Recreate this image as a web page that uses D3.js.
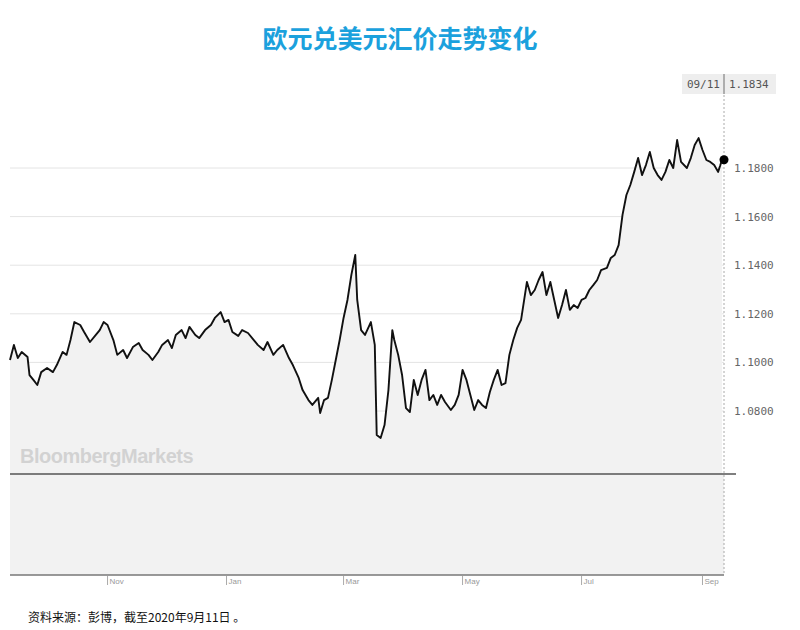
<!DOCTYPE html>
<html><head><meta charset="utf-8">
<script src="https://cdn.jsdelivr.net/npm/d3@7"></script>
<style>body{margin:0;background:#fff}</style></head>
<body><svg id="c" width="800" height="630"></svg>
<script>
const title = "欧元兑美元汇价走势变化";
const source = "资料来源：彭博，截至2020年9月11日 。";
const startDate = "2019-09-12", endDate = "2020-09-11";
const dayOffsets = [0,2,4,6,9,10,12,14,16,19,22,24,27,29,31,33,36,38,41,44,46,48,50,53,55,58,60,63,66,68,71,73,76,78,81,83,85,88,90,92,95,97,100,103,105,108,110,112,114,117,119,122,125,127,130,132,135,137,140,143,145,148,150,153,155,158,159,161,163,165,167,169,171,173,175,177,178,180,182,185,187,188,190,192,194,196,197,199,201,203,205,207,209,211,213,215,217,219,221,223,226,228,230,232,234,236,238,240,242,244,246,248,250,252,254,256,258,260,262,265,267,269,271,273,275,277,279,281,283,285,287,289,291,293,295,297,299,301,303,306,308,310,312,314,316,318,320,322,324,326,328,330,332,334,336,338,340,342,344,347,349,351,353,355,357,359,361,363,364,365];
const values = [1.1010,1.1072,1.1018,1.1043,1.1022,1.0948,1.0928,1.0907,1.0960,1.0977,1.0960,1.0989,1.1043,1.1031,1.1092,1.1166,1.1154,1.1125,1.1084,1.1113,1.1133,1.1166,1.1154,1.1092,1.1031,1.1051,1.1018,1.1063,1.1080,1.1051,1.1031,1.1010,1.1043,1.1072,1.1092,1.1059,1.1113,1.1133,1.1100,1.1146,1.1113,1.1100,1.1133,1.1154,1.1183,1.1207,1.1166,1.1175,1.1125,1.1109,1.1133,1.1121,1.1092,1.1072,1.1051,1.1084,1.1031,1.1051,1.1072,1.1018,1.0989,1.0936,1.0886,1.0845,1.0825,1.0854,1.0792,1.0845,1.0854,1.0928,1.1010,1.1092,1.1183,1.1257,1.1360,1.1442,1.1257,1.1133,1.1113,1.1166,1.1072,1.0701,1.0689,1.0742,1.0886,1.1133,1.1092,1.1031,1.0948,1.0812,1.0796,1.0928,1.0866,1.0928,1.0969,1.0845,1.0866,1.0825,1.0866,1.0837,1.0804,1.0825,1.0866,1.0969,1.0928,1.0866,1.0804,1.0845,1.0825,1.0812,1.0878,1.0928,1.0969,1.0907,1.0915,1.1031,1.1092,1.1142,1.1175,1.1331,1.1277,1.1298,1.1339,1.1372,1.1277,1.1331,1.1257,1.1183,1.1236,1.1298,1.1216,1.1236,1.1224,1.1257,1.1265,1.1298,1.1318,1.1339,1.1380,1.1389,1.1430,1.1442,1.1483,1.1607,1.1689,1.1730,1.1784,1.1841,1.1771,1.1812,1.1866,1.1800,1.1771,1.1751,1.1784,1.1833,1.1800,1.1915,1.1825,1.1800,1.1841,1.1895,1.1923,1.1874,1.1833,1.1825,1.1812,1.1784,1.1808,1.1834];
const yTicks = [1.08,1.10,1.12,1.14,1.16,1.18];
const monthTicks = ["2019-11-01","2020-01-01","2020-03-01","2020-05-01","2020-07-01","2020-09-01"];
const monthLabels = ["Nov","Jan","Mar","May","Jul","Sep"];
const lastLabel = ["09/11","1.1834"];

const p = d3.timeParse("%Y-%m-%d");
const t0 = p(startDate), t1 = p(endDate);
const n = Math.min(values.length, dayOffsets.length);
const data = values.slice(0,n).map((v,i)=>({d:d3.timeDay.offset(t0, dayOffsets[i]), v}));
const svg = d3.select("#c");
const x = d3.scaleTime().domain([t0,t1]).range([10,722]);
const y = d3.scaleLinear().domain([1.08,1.18]).range([411,168]);
const baseY = 474, bottomY = 575;

svg.append("text").attr("x",400).attr("y",48).attr("text-anchor","middle")
  .attr("font-family","Noto Sans CJK SC").attr("font-weight","bold").attr("font-size",25)
  .attr("fill","#1ba1dd").text(title);

svg.selectAll(".g").data(yTicks).join("line").attr("x1",10).attr("x2",724)
  .attr("y1",d=>y(d)).attr("y2",d=>y(d)).attr("stroke","#e4e4e4");
svg.append("rect").attr("x",10).attr("y",baseY).attr("width",714).attr("height",bottomY-baseY).attr("fill","#f2f2f2");
svg.append("path").datum(data).attr("fill","#f2f2f2")
  .attr("d",d3.area().x(d=>x(d.d)).y0(baseY).y1(d=>y(d.v)));
svg.append("text").attr("x",20).attr("y",463).attr("font-family","Liberation Sans")
  .attr("font-weight","bold").attr("font-size",20).attr("fill","#d2d2d2").attr("letter-spacing",-0.5).text("BloombergMarkets");
svg.append("line").attr("x1",10).attr("x2",736).attr("y1",baseY).attr("y2",baseY).attr("stroke","#555").attr("stroke-width",1.5);
svg.append("line").attr("x1",724).attr("x2",724).attr("y1",95).attr("y2",bottomY).attr("stroke","#aaa").attr("stroke-dasharray","2,2");
svg.append("line").attr("x1",10).attr("x2",724).attr("y1",bottomY).attr("y2",bottomY).attr("stroke","#777").attr("stroke-width",1.5);
svg.append("path").datum(data).attr("fill","none").attr("stroke","#111").attr("stroke-width",1.9)
  .attr("stroke-linejoin","round").attr("d",d3.line().x(d=>x(d.d)).y(d=>y(d.v)));
const last = data[data.length-1];
svg.append("circle").attr("cx",x(last.d)+2).attr("cy",y(last.v)).attr("r",4.5).attr("fill","#000");
svg.selectAll(".yl").data(yTicks).join("text").attr("x",734).attr("y",d=>y(d)+4)
  .attr("font-family","DejaVu Sans Mono").attr("font-size",11).attr("fill","#666").text(d=>d.toFixed(4));
svg.append("rect").attr("x",682).attr("y",74).attr("width",94).attr("height",20).attr("fill","#eeeeee");
svg.append("line").attr("x1",724).attr("x2",724).attr("y1",74).attr("y2",94).attr("stroke","#999").attr("stroke-width",1.5);
svg.append("text").attr("x",720).attr("y",88).attr("text-anchor","end").attr("font-family","DejaVu Sans Mono").attr("font-size",11).attr("fill","#555").text(lastLabel[0]);
svg.append("text").attr("x",729).attr("y",88).attr("font-family","DejaVu Sans Mono").attr("font-size",11).attr("fill","#555").text(lastLabel[1]);
const mt = monthTicks.map(p);
svg.selectAll(".mt").data(mt).join("line").attr("x1",d=>x(d)).attr("x2",d=>x(d))
  .attr("y1",bottomY+1).attr("y2",bottomY+10).attr("stroke","#aaa");
svg.selectAll(".ml").data(mt).join("text").attr("x",d=>x(d)+2).attr("y",bottomY+9)
  .attr("font-family","Liberation Sans Narrow, Liberation Sans").attr("font-size",8).attr("fill","#999").text((d,i)=>monthLabels[i]);
svg.append("text").attr("x",28).attr("y",622).attr("font-family","Noto Sans CJK SC").attr("font-size",12).attr("fill","#111").text(source);
</script></body></html>
